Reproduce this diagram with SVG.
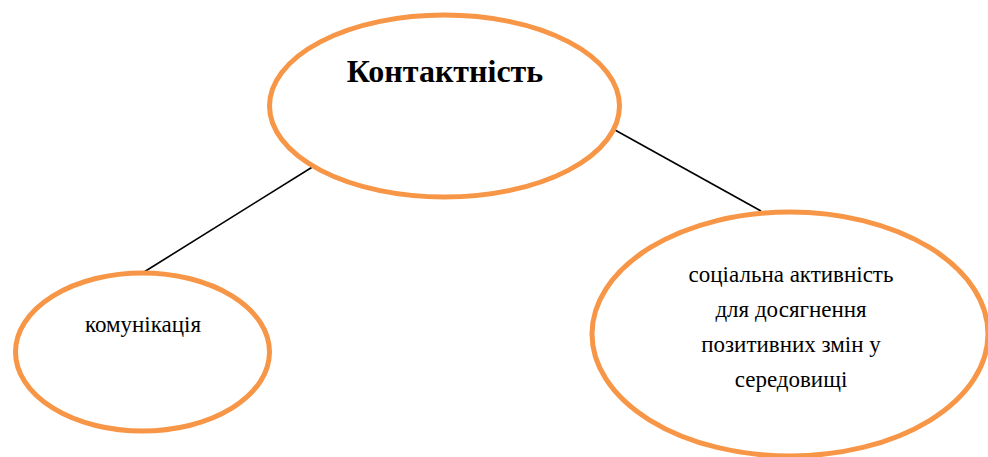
<svg xmlns="http://www.w3.org/2000/svg" width="988" height="457" viewBox="0 0 988 457">
<style>
.n{fill:#fff;stroke:#f79646;stroke-width:5}
.c{stroke:#000;stroke-width:1.6;fill:none}
text{font-family:"Liberation Serif","Times New Roman",serif;fill:#000;text-anchor:middle}
.s{font-size:23px}
</style>
<rect width="988" height="457" fill="#fff"/>
<g id="connectors">
<line class="c" x1="314" y1="166" x2="144" y2="272"/>
<line class="c" x1="615" y1="130" x2="761" y2="211"/>
</g>
<g id="node-main"><ellipse class="n" cx="444.500" cy="106" rx="175" ry="91"/><text x="445" y="82" font-size="32" font-weight="bold">Контактність</text></g>
<g id="node-left"><ellipse class="n" cx="142.500" cy="352" rx="127" ry="79"/><text class="s" x="143" y="332">комунікація</text></g>
<g id="node-right"><ellipse class="n" cx="790" cy="334" rx="198" ry="122"/>
<text class="s" x="791" y="282">соціальна активність</text>
<text class="s" x="791" y="317">для досягнення</text>
<text class="s" x="791" y="352">позитивних  змін у</text>
<text class="s" x="791" y="387">середовищі</text></g>
</svg>
